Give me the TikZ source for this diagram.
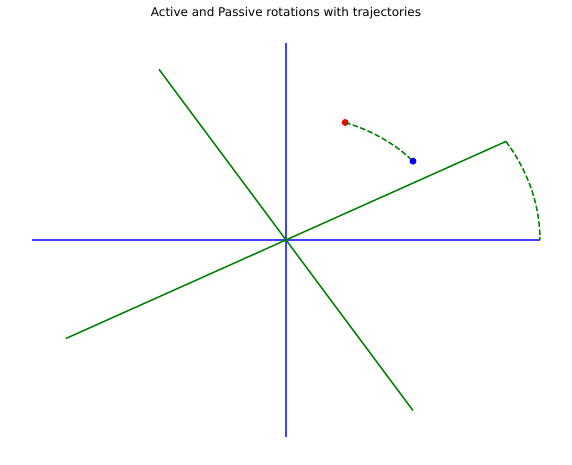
\documentclass[tikz,border=0pt]{standalone}
\usepackage{fontspec}
\setmainfont{DejaVu Sans}
\definecolor{axblue}{rgb}{0.25,0.25,1}
\definecolor{mplgreen}{rgb}{0,0.5,0}
\tikzset{
  axisline/.style={draw=axblue, line width=1.125pt},
  rotline/.style={draw=mplgreen, line width=1.125pt},
  traj/.style={draw=mplgreen, line width=1.125pt, dash pattern=on 4.16pt off 1.8pt},
  pt/.style={circle, inner sep=0pt, minimum size=5.2pt},
}
\begin{document}
\begin{tikzpicture}[x=190.5pt, y=147.75pt]
\useasboundingbox (-1.126,-1.142) rectangle (1.126,1.218);
\node[font=\fontsize{9}{11}\selectfont] (title) at (0,1.152) {Active and Passive rotations with trajectories};
% original axes
\coordinate (xl) at (-1,0); \coordinate (xr) at (1,0);
\coordinate (yb) at (0,-1); \coordinate (yt) at (0,1);
\draw[axisline] (xl) -- (xr);
\draw[axisline] (yb) -- (yt);
% rotated axes
\coordinate (ul) at ({-cos(30)},{-sin(30)}); \coordinate (ur) at ({cos(30)},{sin(30)});
\coordinate (vb) at ({sin(30)},{-cos(30)}); \coordinate (vt) at ({-sin(30)},{cos(30)});
\draw[rotline] (ul) -- (ur);
\draw[rotline] (vb) -- (vt);
% trajectory of axis tip
\draw[traj] plot[domain=30:0, samples=40, smooth] ({cos(\x)},{sin(\x)});
% point trajectory
\node[pt, fill=red] (p0) at ({0.6403*cos(68.66)},{0.6403*sin(68.66)}) {};
\draw[traj] plot[domain=68.66:38.66, samples=40, smooth] ({0.6403*cos(\x)},{0.6403*sin(\x)});
\node[pt, fill=blue] (p1) at (0.5,0.4) {};
\end{tikzpicture}
\end{document}
